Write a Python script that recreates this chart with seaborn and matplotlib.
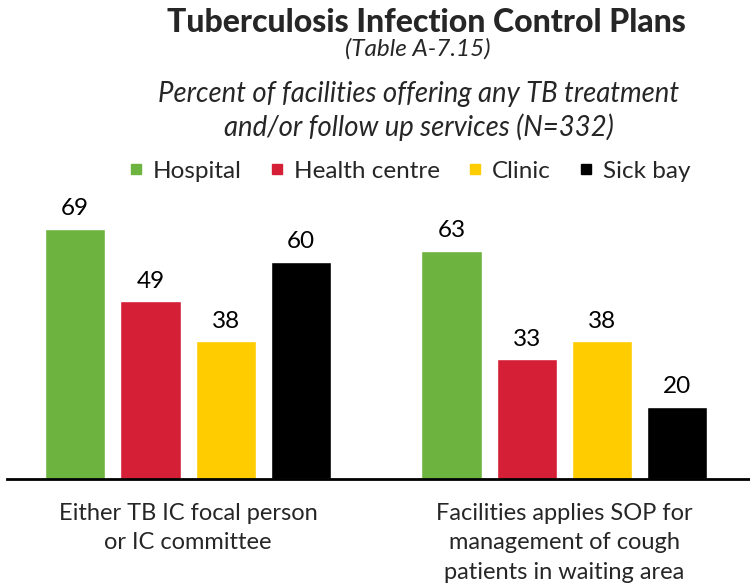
import matplotlib
matplotlib.use("Agg")
import matplotlib.pyplot as plt
import seaborn as sns
import pandas as pd
from matplotlib.lines import Line2D

categories = ["Either TB IC focal person\nor IC committee",
              "Facilities applies SOP for\nmanagement of cough\npatients in waiting area"]
series = ["Hospital", "Health centre", "Clinic", "Sick bay"]
hospital = [69, 63]
health_centre = [49, 33]
clinic = [38, 38]
sick_bay = [60, 20]
colors = ["#6DB33F", "#D51F36", "#FFCC00", "#000000"]

rows = []
for s, vals in zip(series, [hospital, health_centre, clinic, sick_bay]):
    for c, v in zip(categories, vals):
        rows.append({"Category": c, "Type": s, "Value": v})
df = pd.DataFrame(rows)

sns.set_theme(style="white")
plt.rcParams['font.family'] = ['Lato', 'DejaVu Sans']

fig = plt.figure(figsize=(7.5, 5.86), dpi=100)
ax = fig.add_axes([7/750, 107/586, 743/750, 279/586])
sns.barplot(data=df, x="Category", y="Value", hue="Type", order=categories,
            hue_order=series, palette=colors, width=0.8, gap=0.2,
            saturation=1, ax=ax, legend=False)
ax.set_xlim(-0.481, 1.493)
ax.set_ylim(0, 77)
for side in ["left", "right", "top"]:
    ax.spines[side].set_visible(False)
ax.spines["bottom"].set_color("black")
ax.spines["bottom"].set_linewidth(2)
ax.set_yticks([])
ax.set_xlabel("")
ax.set_ylabel("")
ax.tick_params(axis="x", length=0, labelsize=17, pad=17)
for lab in ax.get_xticklabels():
    lab.set_linespacing(1.5)
for cont in ax.containers:
    ax.bar_label(cont, fmt="%d", padding=7, fontsize=17.5, color="black")

fig.text(0.569, 1 - 23/586, "Tuberculosis Infection Control Plans", ha="center",
         va="center", fontsize=23, fontweight="black")
fig.text(0.557, 1 - 49/586, "(Table A-7.15)", ha="center", va="center",
         fontsize=17.5, style="italic")
fig.text(0.558, 1 - 111/586, "Percent of facilities offering any TB treatment\nand/or follow up services (N=332)",
         ha="center", va="center", fontsize=19.8, style="italic", linespacing=1.3)

handles = [Line2D([0], [0], marker="s", color="none", markerfacecolor=c,
                  markeredgecolor=c, markersize=7) for c in colors]
fig.legend(handles, series, loc="center", bbox_to_anchor=(0.546, 1 - 171/586),
           ncol=4, frameon=False, fontsize=17.5, handlelength=0.6,
           handletextpad=0.4, columnspacing=1.15)

fig.savefig("out.png", dpi=100)
